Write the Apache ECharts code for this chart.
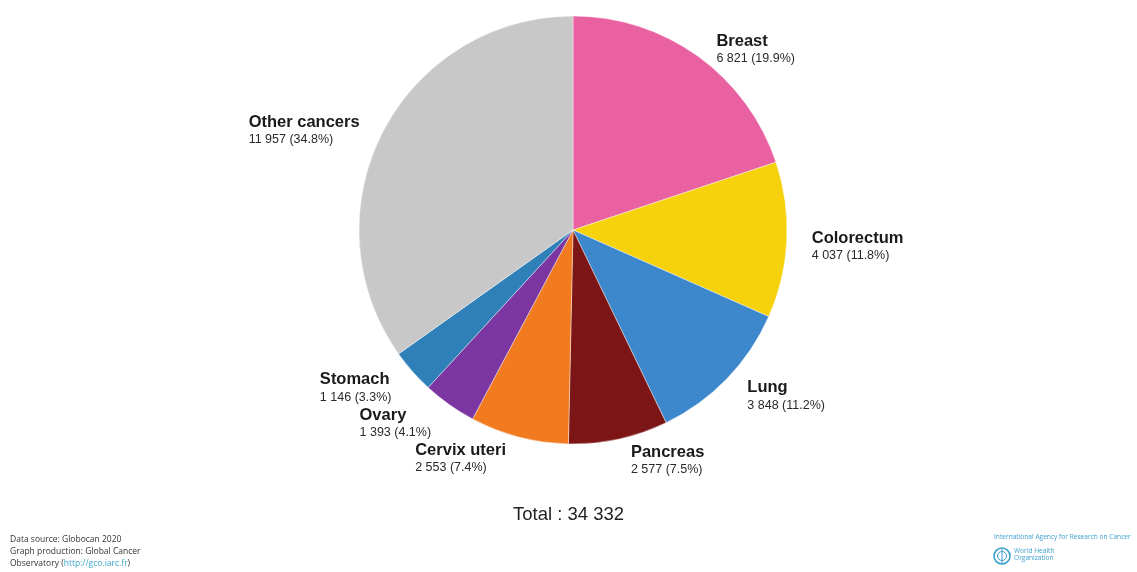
<!DOCTYPE html>
<html>
<head>
<meta charset="utf-8">
<script src="https://cdn.jsdelivr.net/npm/echarts@6/dist/echarts.min.js"></script>
<style>
html,body{margin:0;padding:0;background:#fff;}
#chart{width:1137px;height:572px;}
</style>
</head>
<body>
<div id="chart"></div>
<script>
const categories = ['Breast', 'Colorectum', 'Lung', 'Pancreas', 'Cervix uteri', 'Ovary', 'Stomach', 'Other cancers'];
const values = [6821, 4037, 3848, 2577, 2553, 1393, 1146, 11957];
const colors = ['#ea61a1', '#f5d20c', '#3d87cc', '#7c1616', '#f27a1f', '#7b36a1', '#2f80b9', '#c8c8c8'];
const footerLines = ['Data source: Globocan 2020', 'Graph production: Global Cancer', 'Observatory ('];
const footerLink = 'http://gco.iarc.fr';

const total = values.reduce((a, b) => a + b, 0);
function fmt(n) { return String(n).replace(/\B(?=(\d{3})+(?!\d))/g, ' '); }

const chart = echarts.init(document.getElementById('chart'), null, {renderer: 'canvas'});
const FONT = '"Liberation Sans", Arial, sans-serif';

chart.setOption({
  backgroundColor: '#ffffff',
  animation: false,
  series: [{
    type: 'pie',
    center: [573, 230],
    radius: [0, 214],
    startAngle: 90,
    clockwise: true,
    avoidLabelOverlap: false,
    data: categories.map((c, i) => ({name: c, value: values[i], itemStyle: {color: colors[i]}})),
    itemStyle: {borderColor: 'rgba(255,255,255,0.7)', borderWidth: 0.6},
    label: {
      show: true,
      position: 'outside',
      distanceToLabelLine: 5,
      fontFamily: FONT,
      formatter: function (p) {
        const pct = (p.value / total * 100).toFixed(1);
        return '{n|' + p.name + '}\n{v|' + fmt(p.value) + ' (' + pct + '%)}';
      },
      rich: {
        n: {fontFamily: FONT, fontWeight: 'bold', fontSize: 16.5, color: '#1a1a1a', lineHeight: 18},
        v: {fontFamily: FONT, fontSize: 12.5, color: '#2a2a2a', lineHeight: 17}
      }
    },
    labelLine: {show: false, length: 16, length2: 4},
    labelLayout: function (p) {
      const r = p.labelRect;
      return {x: r.x, y: r.y + r.height / 2 + 7, align: 'left', verticalAlign: 'middle'};
    },
    emphasis: {disabled: true}
  }],
  graphic: [
    {type: 'text', left: 'center', top: 505, style: {text: 'Total : ' + fmt(total), fontFamily: FONT, fontSize: 18.5, fill: '#222'}},
    {type: 'text', left: 10, top: 535, style: {text: footerLines[0], fontFamily: '"Open Sans", sans-serif', fontSize: 8.5, fill: '#333'}},
    {type: 'text', left: 10, top: 547, style: {text: footerLines[1], fontFamily: '"Open Sans", sans-serif', fontSize: 8.5, fill: '#333'}},
    {type: 'text', left: 10, top: 559, style: {
      text: '{a|' + footerLines[2] + '}{b|' + footerLink + '}{a|)}',
      rich: {a: {fontFamily: '"Open Sans", sans-serif', fontSize: 8.5, fill: '#333'}, b: {fontFamily: '"Open Sans", sans-serif', fontSize: 8.5, fill: '#3aa6c9'}}
    }},
    {type: 'text', left: 994, top: 534, style: {text: 'International Agency for Research on Cancer', fontFamily: '"Open Sans", sans-serif', fontSize: 6.6, fill: '#3b9fcc'}},
    {type: 'circle', shape: {cx: 1002, cy: 556, r: 8}, style: {fill: 'none', stroke: '#3b9fcc', lineWidth: 1.6}},
    {type: 'circle', shape: {cx: 1002, cy: 556, r: 4.5}, style: {fill: 'none', stroke: '#3b9fcc', lineWidth: 1}},
    {type: 'line', shape: {x1: 1002, y1: 549, x2: 1002, y2: 564}, style: {stroke: '#3b9fcc', lineWidth: 1}},
    {type: 'text', left: 1014, top: 548, style: {text: 'World Health\nOrganization', fontFamily: '"Open Sans", sans-serif', fontSize: 6.6, lineHeight: 7, fill: '#3b9fcc'}}
  ]
});
</script>
</body>
</html>
